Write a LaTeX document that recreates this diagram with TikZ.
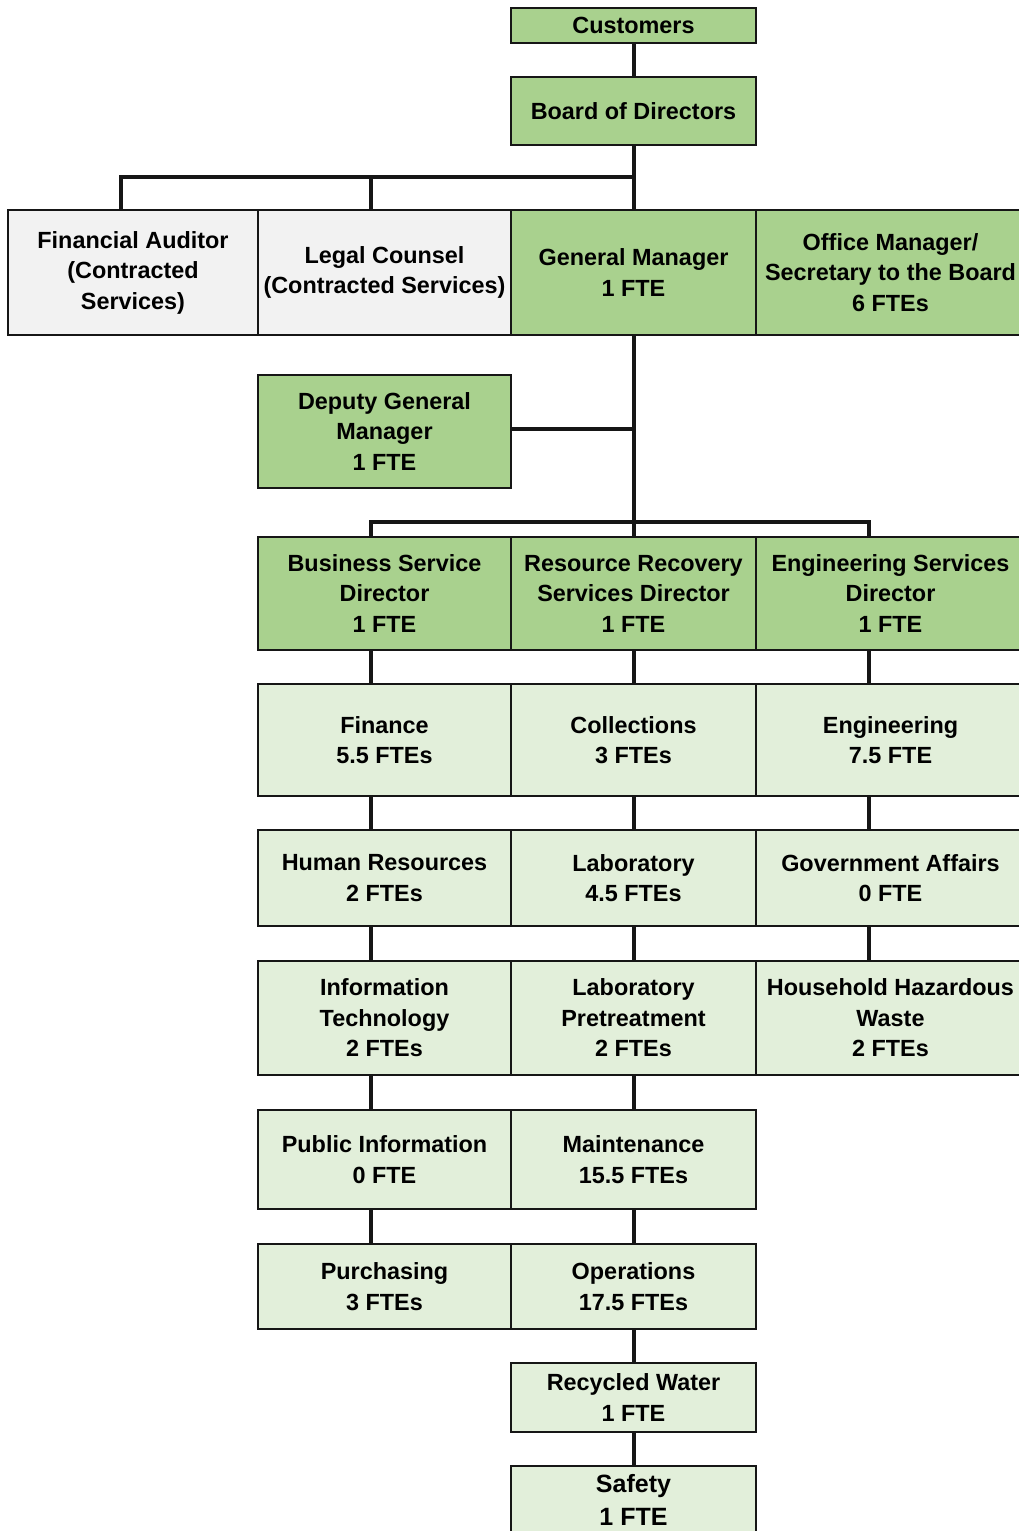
\documentclass[tikz,border=0pt]{standalone}
\usepackage{fontspec}
\setmainfont{Liberation Sans}
\usepackage{xcolor}
\usepackage{tikz}
\definecolor{leadgreen}{HTML}{A9D18E}
\definecolor{staffgreen}{HTML}{E2EFDA}
\definecolor{contractgrey}{HTML}{F2F2F2}
\definecolor{edge}{HTML}{161616}

\begin{document}
\begin{tikzpicture}[
    x=1pt, y=-1pt,
    every node/.style={font=\fontsize{23.4}{30.5}\selectfont\bfseries},
    box/.style={rectangle, draw=edge, line width=2.7pt, inner sep=2pt, outer sep=0pt, align=center, text=black},
    lead/.style={box, fill=leadgreen},
    staff/.style={box, fill=staffgreen},
    contract/.style={box, fill=contractgrey},
    colleft/.style={minimum width=253pt},
    colmid/.style={minimum width=245pt},
    colright/.style={minimum width=269pt},
    connector/.style={draw=edge, line width=3.8pt},
]
\useasboundingbox (0,0) rectangle (1019,1531);
\fill[white] (0,0) rectangle (1019,1531);
\clip (0,0) rectangle (1019,1531);

\node[lead, colmid, minimum height=35pt] (cust) at (633.5,25.5) {Customers};
\node[lead, colmid, minimum height=68pt] (board) at (633.5,111) {Board of Directors};

\node[contract, minimum width=250pt, minimum height=125pt] (audit) at (133,272.5) {Financial Auditor\\(Contracted\\Services)};
\node[contract, colleft, minimum height=125pt] (legal) at (384.5,272.5) {Legal Counsel\\(Contracted Services)};
\node[lead, colmid, minimum height=125pt] (gm) at (633.5,272.5) {General Manager\\1 FTE};
\node[lead, colright, minimum height=125pt] (office) at (890.5,272.5) {Office Manager/\\Secretary to the Board\\6 FTEs};

\node[lead, colleft, minimum height=113pt] (deputy) at (384.5,431.5) {Deputy General\\Manager\\1 FTE};

\node[lead, colleft, minimum height=113pt] (bsd) at (384.5,593.5) {Business Service\\Director\\1 FTE};
\node[lead, colmid, minimum height=113pt] (rrsd) at (633.5,593.5) {Resource Recovery\\Services Director\\1 FTE};
\node[lead, colright, minimum height=113pt] (esd) at (890.5,593.5) {Engineering Services\\Director\\1 FTE};

\node[staff, colleft, minimum height=112pt] (finance) at (384.5,740) {Finance\\5.5 FTEs};
\node[staff, colmid, minimum height=112pt] (collect) at (633.5,740) {Collections\\3 FTEs};
\node[staff, colright, minimum height=112pt] (engin) at (890.5,740) {Engineering\\7.5 FTE};

\node[staff, colleft, minimum height=96pt] (hr) at (384.5,878) {Human Resources\\2 FTEs};
\node[staff, colmid, minimum height=96pt] (lab) at (633.5,878) {Laboratory\\4.5 FTEs};
\node[staff, colright, minimum height=96pt] (gov) at (890.5,878) {Government Affairs\\0 FTE};

\node[staff, colleft, minimum height=114pt] (itech) at (384.5,1018) {Information\\Technology\\2 FTEs};
\node[staff, colmid, minimum height=114pt] (pretreat) at (633.5,1018) {Laboratory\\Pretreatment\\2 FTEs};
\node[staff, colright, minimum height=114pt] (hhw) at (890.5,1018) {Household Hazardous\\Waste\\2 FTEs};

\node[staff, colleft, minimum height=99pt] (pubinfo) at (384.5,1159.5) {Public Information\\0 FTE};
\node[staff, colmid, minimum height=99pt] (maint) at (633.5,1159.5) {Maintenance\\15.5 FTEs};

\node[staff, colleft, minimum height=85pt] (purch) at (384.5,1286.5) {Purchasing\\3 FTEs};
\node[staff, colmid, minimum height=85pt] (ops) at (633.5,1286.5) {Operations\\17.5 FTEs};

\node[staff, colmid, minimum height=69pt] (recyc) at (633.5,1397.5) {Recycled Water\\1 FTE};
\node[staff, colmid, minimum height=68pt, font=\fontsize{25}{33}\selectfont\bfseries] (safety) at (633.5,1500) {Safety\\1 FTE};

\coordinate (xa) at (121,0);
\coordinate (xl) at (371,0);
\coordinate (xm) at (634,0);
\coordinate (xr) at (869,0);
\coordinate (topbus) at (0,177);
\coordinate (dirbus) at (0,522);
\coordinate (depbus) at (0,429);

\draw[connector] (cust.south -| xm) -- (board.north -| xm);
\draw[connector] (board.south -| xm) -- (gm.north -| xm);
\draw[connector] (audit.north -| xa) |- (topbus -| xm);
\draw[connector] (legal.north -| xl) -- (topbus -| xl);
\draw[connector] (gm.south -| xm) -- (rrsd.north -| xm);
\draw[connector] (depbus -| deputy.east) -- (depbus -| xm);
\draw[connector] (bsd.north -| xl) |- (dirbus -| xr) -- (esd.north -| xr);
\foreach \a/\b in {bsd/finance, finance/hr, hr/itech, itech/pubinfo, pubinfo/purch}
    \draw[connector] (\a.south -| xl) -- (\b.north -| xl);
\foreach \a/\b in {rrsd/collect, collect/lab, lab/pretreat, pretreat/maint, maint/ops, ops/recyc, recyc/safety}
    \draw[connector] (\a.south -| xm) -- (\b.north -| xm);
\foreach \a/\b in {esd/engin, engin/gov, gov/hhw}
    \draw[connector] (\a.south -| xr) -- (\b.north -| xr);
\end{tikzpicture}
\end{document}
